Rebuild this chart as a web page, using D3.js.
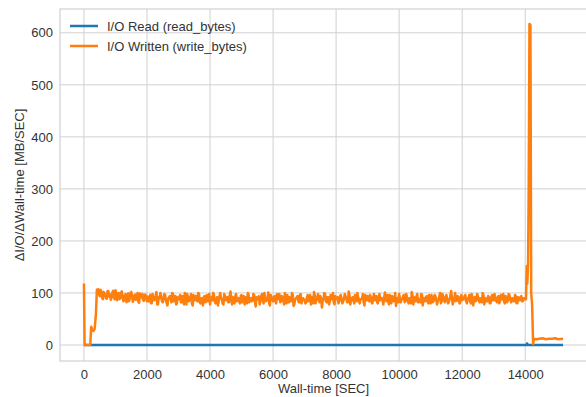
<!DOCTYPE html>
<html>
<head>
<meta charset="utf-8">
<script src="https://cdn.jsdelivr.net/npm/d3@7"></script>
<style>
  html, body { margin: 0; padding: 0; background: #fff; }
  svg { display: block; font-family: "Liberation Sans", Arial, sans-serif; }
</style>
</head>
<body>
<svg id="chart" width="586" height="397"></svg>
<script>
// ---- data ----
const seriesNames = ["I/O Read (read_bytes)", "I/O Written (write_bytes)"];
const xTicks = [0, 2000, 4000, 6000, 8000, 10000, 12000, 14000];
const yTicks = [0, 100, 200, 300, 400, 500, 600];

// read series (MB/s)
const readTimes  = [0, 14040, 14060, 14080, 15200];
const readValues = [0, 0, 3, 0, 0];

// write series: start-up segment
const writeStartTimes  = [0, 20, 200, 230, 260, 300, 340, 380, 410, 430];
const writeStartValues = [118, 0, 0, 35, 30, 27, 31, 60, 106, 100];

// write series: steady band, samples every 50 s from 450 s (set A) and from 475 s (set B)
const bandStep = 50;
const bandStartA = 450;
const writeBandValuesA = [
  107,94,103,88,100,90,104,93,87,101,92,105,
  86,100,90,103,84,96,82,99,88,102,83,95,87,100,81,93,98,85,97,84,
  84,96,80,92,88,102,78,90,94,82,98,86,76,92,88,100,84,94,80,90,
  96,82,88,100,78,92,86,98,76,90,94,84,99,80,88,92,82,96,86,78,
  92,100,84,88,76,94,90,80,98,86,92,82,103,78,88,94,84,90,80,96,
  88,78,92,100,82,90,86,96,74,88,94,84,98,80,90,86,101,76,92,84,
  94,80,88,98,84,92,78,90,96,82,86,100,75,88,92,84,96,80,90,86,
  82,96,88,78,92,102,80,90,86,94,72,88,98,82,92,84,90,100,78,88,
  92,84,96,80,88,94,82,103,78,90,86,96,84,92,80,88,98,76,90,94,
  84,92,80,98,88,82,94,86,90,78,101,84,88,96,80,92,86,75,90,98,
  82,88,96,84,92,80,90,102,78,88,94,82,86,98,76,90,92,84,96,80,
  90,86,94,78,88,100,84,92,82,96,80,88,104,78,90,84,94,82,92,86,
  88,96,80,90,84,98,76,92,86,94,82,88,100,78,90,84,92,80,96,86,
  90,82,94,84,88,98,80,92,86,96,82,90,84,94,80,88,92,84,90,88
];
const bandStartB = 475;
const writeBandValuesB = [
  98,106,91,102,95,89,103,97,91,104,88,99,
  95,88,101,92,86,98,91,84,100,94,87,97,90,83,99,92,86,96,89,93,
  90,80,98,86,94,78,92,100,84,88,96,80,90,94,82,98,86,78,92,88,
  82,94,78,90,98,84,92,80,96,86,88,100,82,90,76,94,88,84,98,90,
  86,96,80,92,84,100,88,78,94,90,82,96,86,92,80,98,88,84,94,82,
  94,86,80,96,90,84,98,82,92,88,78,94,86,100,84,90,80,96,88,92,
  84,98,90,82,94,86,100,80,88,92,84,96,78,90,94,82,98,86,88,80,
  92,84,96,86,80,94,88,98,82,90,86,100,84,92,78,96,88,82,94,90,
  80,94,88,84,98,90,82,96,86,92,80,94,100,84,88,90,82,96,86,92,
  96,82,90,86,94,80,98,88,84,92,86,96,78,90,94,84,100,88,82,90,
  88,94,82,98,86,90,80,94,92,84,98,88,82,96,90,84,94,80,88,96,
  82,96,88,84,94,80,98,86,92,88,82,94,90,84,100,86,92,80,96,88,
  94,84,90,96,80,92,88,84,98,86,90,82,96,88,84,94,80,92,86,98,
  86,92,80,96,88,84,94,82,98,88,90,84,96,80,92,86,94,84,90,88
];

// write series: burst at the end and tail
const writeSpikeTimes  = [14035, 14050, 14065, 14090, 14110, 14135, 14165, 14190, 14220, 14250, 14275];
const writeSpikeValues = [120, 152, 118, 155, 300, 617, 615, 100, 76, 2, 12];
const writeTailTimes   = [14350, 14450, 14550, 14650, 14750, 14850, 14950, 15050, 15200];
const writeTailValues  = [11, 12, 13, 11, 12, 12, 13, 11, 12];

// ---- build series ----
const readData = readTimes.map((t, i) => ({ t, v: readValues[i] }));
const writeData = [
  ...writeStartTimes.map((t, i) => ({ t, v: writeStartValues[i] })),
  ...writeBandValuesA.map((v, i) => ({ t: bandStartA + i * bandStep, v })),
  ...writeBandValuesB.map((v, i) => ({ t: bandStartB + i * bandStep, v })),
  ...writeSpikeTimes.map((t, i) => ({ t, v: writeSpikeValues[i] })),
  ...writeTailTimes.map((t, i) => ({ t, v: writeTailValues[i] }))
].sort((a, b) => a.t - b.t);

// ---- layout ----
const svg = d3.select("#chart");
const plot = { left: 60, right: 587, top: 9, bottom: 361 };
const x = d3.scaleLinear().domain([-760, 15960]).range([plot.left, plot.right]);
const y = d3.scaleLinear().domain([-30.75, 645.75]).range([plot.bottom, plot.top]);

const gridColor = "#d0d0d0";
const textColor = "#333333";
const fontSize = "13px";

// grid
const g = svg.append("g");
g.selectAll(".gx").data(xTicks).enter().append("line")
  .attr("x1", d => x(d)).attr("x2", d => x(d))
  .attr("y1", plot.top).attr("y2", plot.bottom)
  .attr("stroke", gridColor).attr("stroke-width", 1);
g.selectAll(".gy").data(yTicks).enter().append("line")
  .attr("x1", plot.left).attr("x2", plot.right)
  .attr("y1", d => y(d)).attr("y2", d => y(d))
  .attr("stroke", gridColor).attr("stroke-width", 1);

// frame
svg.append("rect")
  .attr("x", plot.left).attr("y", plot.top)
  .attr("width", plot.right - plot.left).attr("height", plot.bottom - plot.top)
  .attr("fill", "none").attr("stroke", gridColor).attr("stroke-width", 1.2);

// axes (labels only)
const xAxis = d3.axisBottom(x).tickValues(xTicks).tickSize(0).tickPadding(9).tickFormat(d3.format("d"));
const yAxis = d3.axisLeft(y).tickValues(yTicks).tickSize(0).tickPadding(7).tickFormat(d3.format("d"));
const gx = svg.append("g").attr("transform", `translate(0,${plot.bottom})`).call(xAxis);
const gy = svg.append("g").attr("transform", `translate(${plot.left},0)`).call(yAxis);
[gx, gy].forEach(a => {
  a.select(".domain").remove();
  a.selectAll("text").attr("fill", textColor).style("font-size", fontSize)
    .style("font-family", "'Liberation Sans', Arial, sans-serif");
});

// axis labels
svg.append("text")
  .attr("x", (plot.left + plot.right) / 2).attr("y", 393)
  .attr("text-anchor", "middle").attr("fill", textColor)
  .style("font-size", fontSize).text("Wall-time [SEC]");
svg.append("text")
  .attr("transform", `translate(24,${(plot.top + plot.bottom) / 2}) rotate(-90)`)
  .attr("text-anchor", "middle").attr("fill", textColor)
  .style("font-size", fontSize).text("ΔI/O/ΔWall-time [MB/SEC]");

// lines
const colors = ["#1f77b4", "#ff7f0e"];
const line = d3.line().x(d => x(d.t)).y(d => y(d.v));
svg.append("clipPath").attr("id", "clip").append("rect")
  .attr("x", plot.left).attr("y", plot.top)
  .attr("width", plot.right - plot.left).attr("height", plot.bottom - plot.top);
const lines = svg.append("g").attr("clip-path", "url(#clip)");
lines.append("path").datum(readData).attr("d", line)
  .attr("fill", "none").attr("stroke", colors[0]).attr("stroke-width", 2.5)
  .attr("stroke-linejoin", "round");
lines.append("path").datum(writeData).attr("d", line)
  .attr("fill", "none").attr("stroke", colors[1]).attr("stroke-width", 2.5)
  .attr("stroke-linejoin", "round");

// legend
const legend = svg.append("g");
seriesNames.forEach((name, i) => {
  const ly = 26 + i * 20;
  legend.append("line").attr("x1", 70).attr("x2", 98).attr("y1", ly).attr("y2", ly)
    .attr("stroke", colors[i]).attr("stroke-width", 2.5);
  legend.append("text").attr("x", 107).attr("y", ly).attr("dy", "0.35em")
    .attr("fill", textColor).style("font-size", fontSize).text(name);
});
</script>
</body>
</html>
